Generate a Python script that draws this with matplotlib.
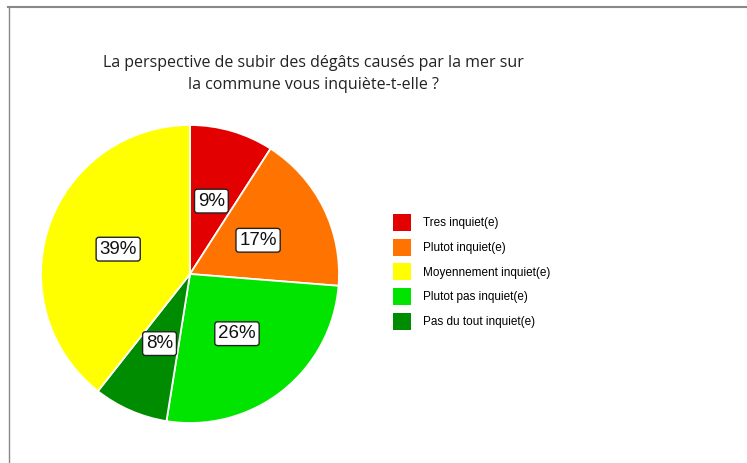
import matplotlib
matplotlib.use("Agg")
import matplotlib.pyplot as plt
from matplotlib.patches import Patch
from matplotlib.lines import Line2D

# legend order
categories = ["Tres inquiet(e)", "Plutot inquiet(e)", "Moyennement inquiet(e)",
              "Plutot pas inquiet(e)", "Pas du tout inquiet(e)"]
percents = [9, 17, 39, 26, 8]
colors = ["#e30000", "#ff7400", "#ffff00", "#00e400", "#008c00"]

# order of the slices, clockwise from the top
pie_order = [0, 1, 3, 4, 2]

title = "La perspective de subir des dégâts causés par la mer sur\nla commune vous inquiète-t-elle ?"

fig = plt.figure(figsize=(7.47, 4.63), dpi=100)

W, H = 747, 463
cx, cy, r = 190, 274, 149
ax = fig.add_axes([(cx - r) / W, (H - cy - r) / H, 2 * r / W, 2 * r / H])

vals = [percents[i] for i in pie_order]
cols = [colors[i] for i in pie_order]
wedges, texts, autotexts = ax.pie(
    vals, colors=cols, startangle=90, counterclock=False,
    autopct="%.0f%%", pctdistance=0.51,
    wedgeprops=dict(edgecolor="white", linewidth=1.3),
    textprops=dict(fontsize=13.5, family="Liberation Sans", color="#111111"))
for t in autotexts:
    t.set_bbox(dict(boxstyle="round,pad=0.18,rounding_size=0.15", facecolor="white",
                    edgecolor="#222222", linewidth=1.0))
ax.set_xlim(-1, 1)
ax.set_ylim(-1, 1)
ax.set_aspect("equal")

handles = [Patch(facecolor=c, edgecolor="none") for c in colors]
fig.legend(handles, categories, loc="upper left",
           bbox_to_anchor=(393 / W, 1 - 214 / H), frameon=False,
           prop=dict(family="Liberation Sans", size=8.5),
           handlelength=1.52, handleheight=1.84, handletextpad=1.0,
           labelspacing=0.65, borderaxespad=0, borderpad=0)

fig.text(313 / W, 1 - 74 / H, title, ha="center", va="center",
         fontsize=11.5, family="Open Sans", color="#222222", linespacing=1.45)

# frame around the picture (top and left edges visible)
fig.add_artist(Line2D([8 / W, 1], [1 - 6.5 / H, 1 - 6.5 / H], transform=fig.transFigure,
                      color="#888888", linewidth=1.5))
fig.add_artist(Line2D([8.5 / W, 8.5 / W], [0, 1 - 6.5 / H], transform=fig.transFigure,
                      color="#888888", linewidth=1.0))

fig.savefig("out.png", dpi=100)
